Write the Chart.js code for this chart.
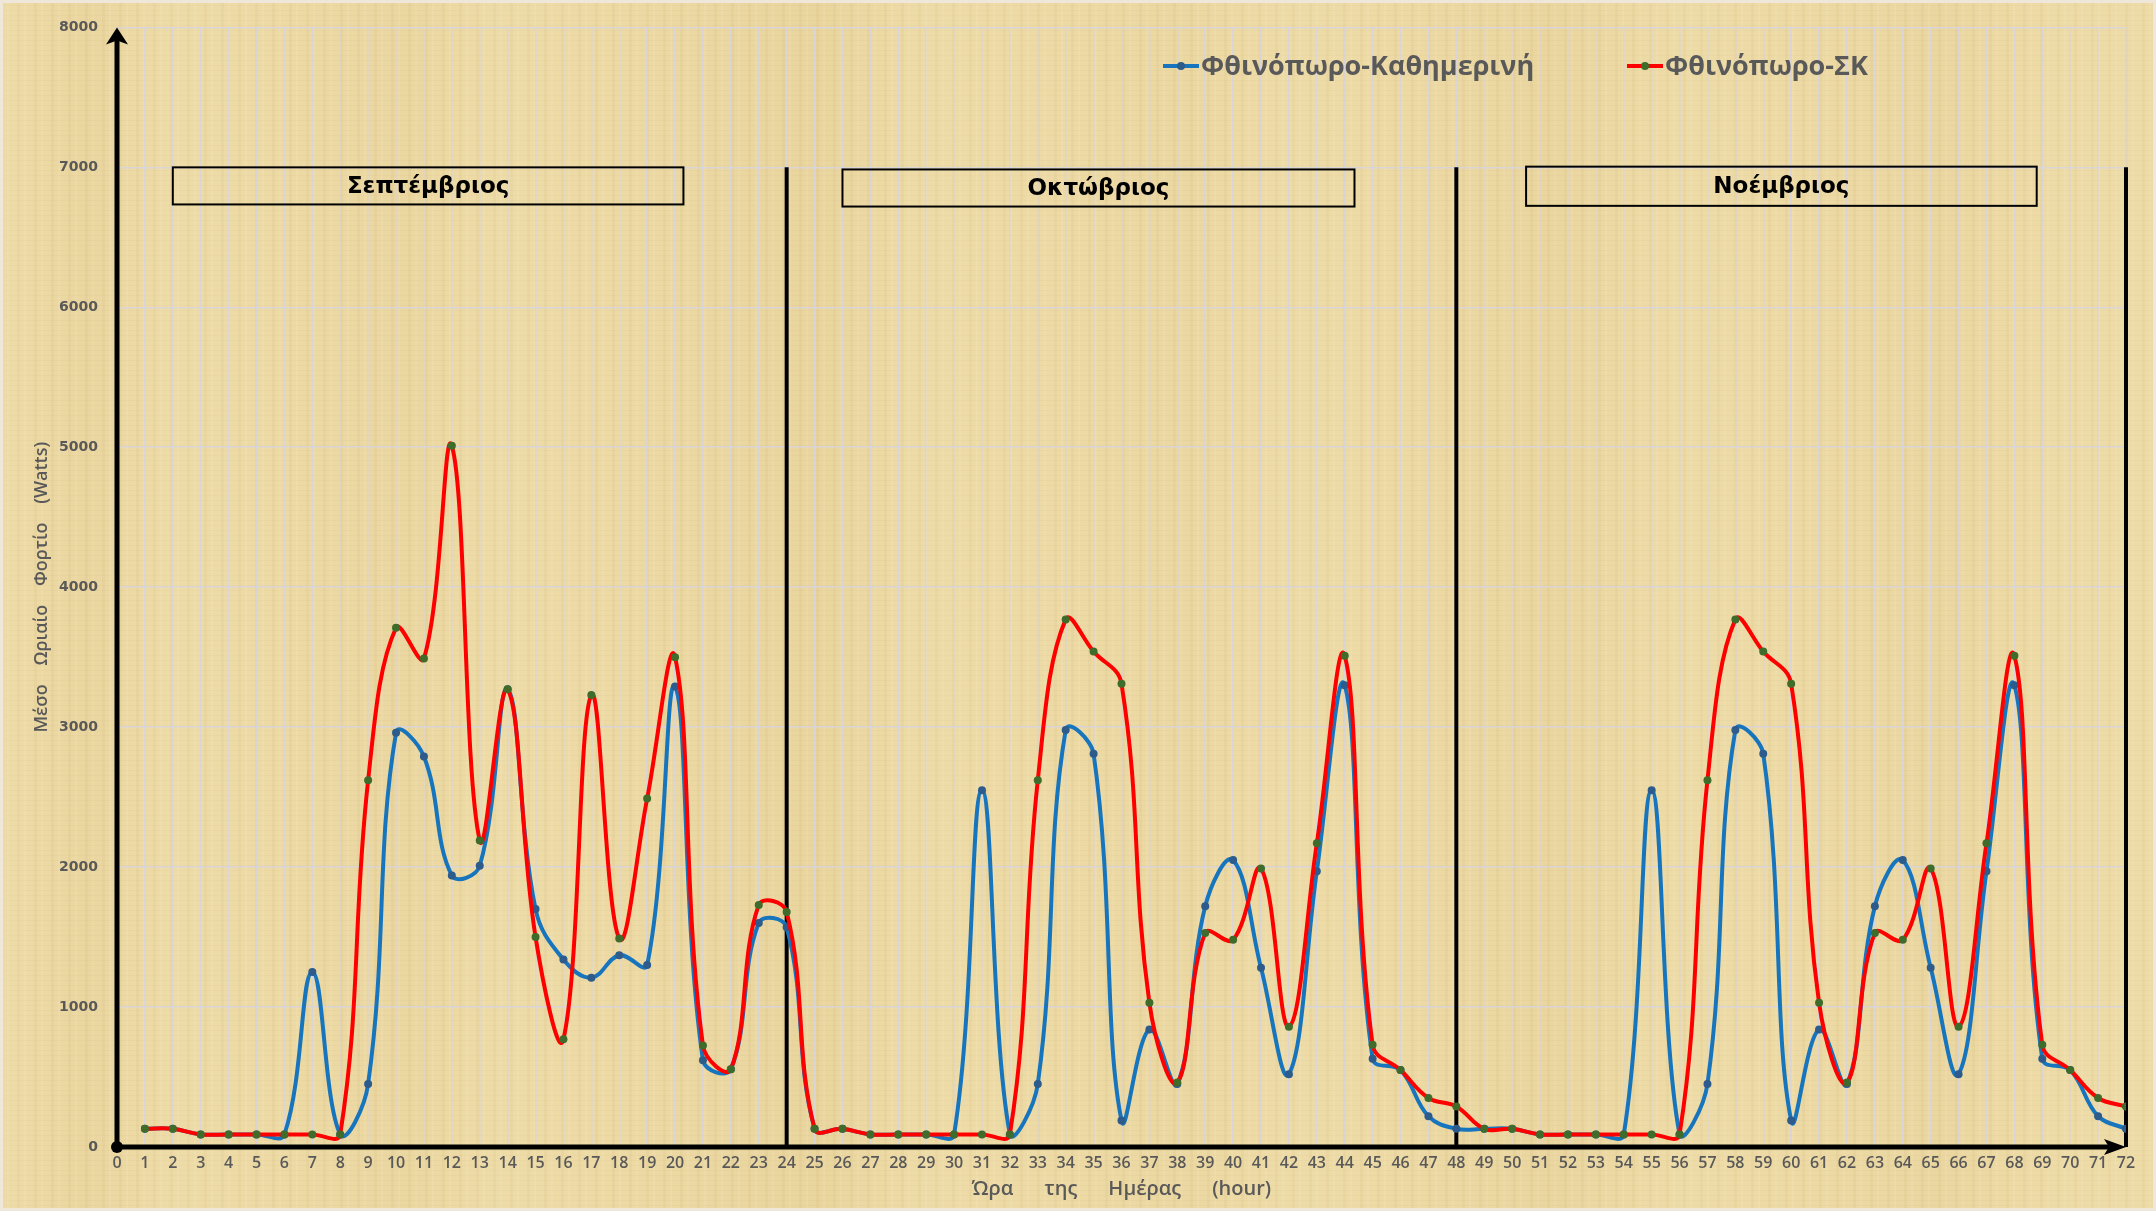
<!DOCTYPE html>
<html lang="el">
<head>
<meta charset="utf-8">
<title>Μέσο Ωριαίο Φορτίο - Φθινόπωρο</title>
<script src="https://cdn.jsdelivr.net/npm/chart.js@4.4.1/dist/chart.umd.min.js"></script>
<style>
  html, body { margin: 0; padding: 0; }
  body { width: 2156px; height: 1211px; overflow: hidden; }
  .paper {
    position: relative;
    width: 2156px;
    height: 1211px;
    background-color: #eedca8;
    background-image:
      repeating-linear-gradient(0deg, rgba(150,115,55,0.04) 0 1px, transparent 1px 5px),
      repeating-linear-gradient(90deg, rgba(170,130,60,0.06) 0 3px, transparent 3px 7px, rgba(255,248,225,0.10) 7px 9px, transparent 9px 17px),
      linear-gradient(90deg, rgba(210,175,105,0) 0%, rgba(210,175,105,0.14) 4%, rgba(210,175,105,0) 8%,
        rgba(210,175,105,0.12) 19%, rgba(210,175,105,0) 23%, rgba(210,175,105,0.16) 38%, rgba(210,175,105,0) 43%,
        rgba(210,175,105,0.1) 55%, rgba(210,175,105,0) 60%, rgba(210,175,105,0.14) 72%, rgba(210,175,105,0) 78%,
        rgba(210,175,105,0.12) 90%, rgba(210,175,105,0) 96%);
    box-shadow: inset 0 0 0 3px #efe8da;
  }
  canvas { display: block; }
</style>
</head>
<body>
<div class="paper"><canvas id="chart-autumn-load" width="2156" height="1211"></canvas></div>
<script>
// hours of the three months (Sep 1-24, Oct 25-48, Nov 49-72)
const hours = [1, 2, 3, 4, 5, 6, 7, 8, 9, 10, 11, 12, 13, 14, 15, 16, 17, 18, 19, 20, 21, 22, 23, 24,
  25, 26, 27, 28, 29, 30, 31, 32, 33, 34, 35, 36, 37, 38, 39, 40, 41, 42, 43, 44, 45, 46, 47, 48,
  49, 50, 51, 52, 53, 54, 55, 56, 57, 58, 59, 60, 61, 62, 63, 64, 65, 66, 67, 68, 69, 70, 71, 72];

const months = ['Σεπτέμβριος', 'Οκτώβριος', 'Νοέμβριος'];
const seriesNames = ['Φθινόπωρο-Καθημερινή', 'Φθινόπωρο-ΣΚ'];

// weekday (blue)
const sepWeekday = [130, 130, 90, 90, 90, 90, 1250, 90, 450, 2960, 2790, 1940, 2010, 3270, 1700, 1340, 1210, 1370, 1300, 3290, 620, 555, 1600, 1570];
const octWeekday = [130, 130, 90, 90, 90, 90, 2550, 90, 450, 2980, 2810, 190, 840, 450, 1720, 2050, 1280, 520, 1970, 3300, 630, 550, 220, 130];
const novWeekday = [130, 130, 90, 90, 90, 90, 2550, 90, 450, 2980, 2810, 190, 840, 450, 1720, 2050, 1280, 520, 1970, 3300, 630, 550, 220, 130];

// weekend (red)
const sepWeekend = [130, 130, 90, 90, 90, 90, 90, 90, 2620, 3710, 3490, 5010, 2190, 3270, 1500, 770, 3230, 1490, 2490, 3500, 725, 555, 1730, 1680];
const octWeekend = [130, 130, 90, 90, 90, 90, 90, 90, 2620, 3770, 3540, 3310, 1030, 460, 1530, 1480, 1990, 860, 2170, 3510, 730, 550, 350, 290];
const novWeekend = [130, 130, 90, 90, 90, 90, 90, 90, 2620, 3770, 3540, 3310, 1030, 460, 1530, 1480, 1990, 860, 2170, 3510, 730, 550, 350, 290];

const weekday = [...sepWeekday, ...octWeekday, ...novWeekday];
const weekend = [...sepWeekend, ...octWeekend, ...novWeekend];

function toPoints(values) {
  return values.map((v, i) => ({ x: hours[i], y: v }));
}

const GREY = '#595959';

// draws the arrows, month separators, month boxes and the legend
const paperDecor = {
  id: 'paperDecor',
  beforeDatasetsDraw(chart, args, opts) {
    const { ctx, scales: { x, y } } = chart;
    const y0 = y.getPixelForValue(0);
    ctx.save();
    ctx.strokeStyle = '#000';
    ctx.lineWidth = 4;
    opts.separators.forEach(v => {
      const px = x.getPixelForValue(v);
      ctx.beginPath();
      ctx.moveTo(px, y.getPixelForValue(opts.separatorTop));
      ctx.lineTo(px, y0);
      ctx.stroke();
    });
    ctx.restore();
  },
  afterDatasetsDraw(chart, args, opts) {
    const { ctx, scales: { x, y } } = chart;
    const x0 = x.getPixelForValue(0);
    const y0 = y.getPixelForValue(0);
    const xEnd = x.getPixelForValue(72);
    const yTop = y.getPixelForValue(8000);
    ctx.save();

    // y axis with arrow
    ctx.strokeStyle = '#000';
    ctx.fillStyle = '#000';
    ctx.lineWidth = 5;
    ctx.beginPath();
    ctx.moveTo(x0, y0);
    ctx.lineTo(x0, yTop + 12);
    ctx.stroke();
    ctx.beginPath();
    ctx.moveTo(x0, yTop);
    ctx.lineTo(x0 - 11, yTop + 17);
    ctx.lineTo(x0, yTop + 13);
    ctx.lineTo(x0 + 11, yTop + 17);
    ctx.closePath();
    ctx.fill();

    // x axis with arrow
    ctx.beginPath();
    ctx.moveTo(x0, y0);
    ctx.lineTo(xEnd - 12, y0);
    ctx.stroke();
    ctx.beginPath();
    ctx.moveTo(xEnd, y0);
    ctx.lineTo(xEnd - 22, y0 - 8);
    ctx.lineTo(xEnd - 17, y0);
    ctx.lineTo(xEnd - 22, y0 + 8);
    ctx.closePath();
    ctx.fill();

    // origin dot
    ctx.beginPath();
    ctx.arc(x0, y0, 6, 0, Math.PI * 2);
    ctx.fill();

    // month boxes
    ctx.lineWidth = 2;
    ctx.font = 'bold 23px "DejaVu Sans", sans-serif';
    ctx.textAlign = 'center';
    ctx.textBaseline = 'middle';
    opts.boxes.forEach((b, i) => {
      const l = x.getPixelForValue(b.from);
      const r = x.getPixelForValue(b.to);
      const t = y.getPixelForValue(b.top);
      const btm = y.getPixelForValue(b.bottom);
      ctx.strokeRect(l, t, r - l, btm - t);
      ctx.fillStyle = '#000';
      ctx.fillText(months[i], (l + r) / 2, (t + btm) / 2 + 1);
    });

    // legend
    ctx.font = 'bold 27px "Open Sans", sans-serif';
    ctx.textAlign = 'left';
    const order = [1, 0];
    opts.legendItems.forEach((item, i) => {
      const ds = chart.data.datasets[order[i]];
      ctx.strokeStyle = ds.borderColor;
      ctx.lineWidth = 4;
      ctx.beginPath();
      ctx.moveTo(item.x, item.y);
      ctx.lineTo(item.x + 36, item.y);
      ctx.stroke();
      ctx.fillStyle = ds.pointBackgroundColor;
      ctx.beginPath();
      ctx.arc(item.x + 18, item.y, 4, 0, Math.PI * 2);
      ctx.fill();
      ctx.fillStyle = GREY;
      ctx.fillText(ds.label, item.x + 38, item.y + 1);
    });
    ctx.restore();
  }
};

new Chart(document.getElementById('chart-autumn-load'), {
  type: 'line',
  data: {
    datasets: [{
      label: seriesNames[1],
      data: toPoints(weekend),
      borderColor: '#ff0000',
      backgroundColor: '#ff0000',
      pointBackgroundColor: '#3f6b2b',
      borderWidth: 4,
      pointRadius: 4,
      pointBorderWidth: 0,
      tension: 0.4,
      order: 0
    }, {
      label: seriesNames[0],
      data: toPoints(weekday),
      borderColor: '#1775be',
      backgroundColor: '#1775be',
      pointBackgroundColor: '#2c5b8c',
      borderWidth: 4,
      pointRadius: 4,
      pointBorderWidth: 0,
      tension: 0.4,
      order: 1
    }]
  },
  options: {
    responsive: false,
    animation: false,
    events: [],
    layout: { padding: { top: 23, right: 30, left: 0, bottom: 0 } },
    plugins: {
      legend: { display: false },
      tooltip: { enabled: false },
      paperDecor: {
        separators: [24, 48, 72],
        separatorTop: 7000,
        boxes: [
          { from: 2, to: 20.3, top: 7000, bottom: 6735 },
          { from: 26, to: 44.35, top: 6985, bottom: 6720 },
          { from: 50.5, to: 68.8, top: 7005, bottom: 6725 }
        ],
        legendItems: [
          { x: 1163, y: 66 },
          { x: 1627, y: 66 }
        ]
      }
    },
    scales: {
      x: {
        type: 'linear',
        min: 0,
        max: 72,
        afterFit(scale) { scale.height = 64; },
        border: { display: false },
        grid: { color: 'rgba(216,213,218,0.95)', lineWidth: 1.5, drawTicks: false },
        ticks: {
          stepSize: 1,
          autoSkip: false,
          maxRotation: 0,
          minRotation: 0,
          padding: 7,
          color: GREY,
          font: { family: '"Open Sans", sans-serif', size: 16, weight: '600' }
        },
        title: {
          display: true,
          text: 'Ώρα      της      Ημέρας      (hour)',
          color: GREY,
          padding: { top: 0, bottom: 10 },
          font: { family: '"Open Sans", sans-serif', size: 20, weight: '600' }
        }
      },
      y: {
        min: 0,
        max: 8000,
        afterFit(scale) { scale.width = 117; },
        border: { display: false },
        grid: { color: 'rgba(216,213,218,0.95)', lineWidth: 1.5, drawTicks: false },
        ticks: {
          stepSize: 1000,
          padding: 19,
          color: GREY,
          callback: v => String(v),
          font: { family: '"DejaVu Sans", sans-serif', size: 14, weight: 'bold' }
        },
        title: {
          display: true,
          text: 'Μέσο    Ωριαίο    Φορτίο    (Watts)',
          color: GREY,
          padding: { top: 31, bottom: 0 },
          font: { family: '"Open Sans", sans-serif', size: 18, weight: '600' }
        }
      }
    }
  },
  plugins: [paperDecor]
});
</script>
</body>
</html>
